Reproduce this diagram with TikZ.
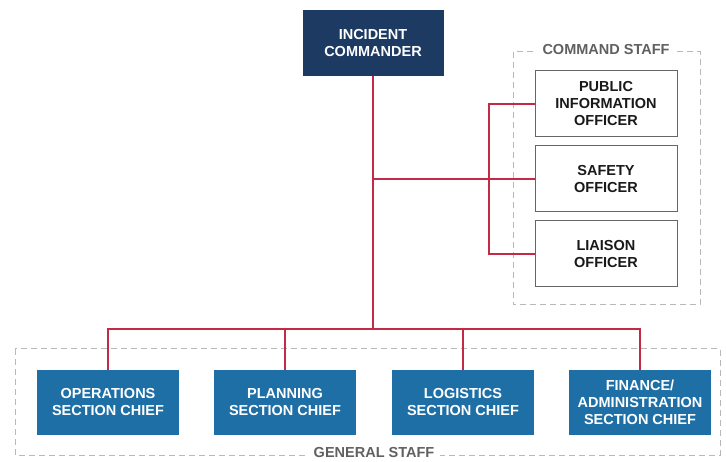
\documentclass[tikz,border=0pt]{standalone}
\usepackage{fontspec}
\setsansfont{Liberation Sans}
\usepackage{tikz}

\definecolor{icnavy}{HTML}{1D3A62}
\definecolor{gsblue}{HTML}{1F6FA7}
\definecolor{linkred}{HTML}{C22A45}
\definecolor{dashgray}{HTML}{B8B8B8}
\definecolor{labelgray}{HTML}{606060}

\begin{document}
\begin{tikzpicture}[x=1pt, y=-1pt,
    lbl/.style={font=\sffamily\bfseries\fontsize{14.5}{17}\selectfont, align=center},
    icbox/.style={lbl, fill=icnavy, text=white, minimum width=141pt, minimum height=66pt},
    gsbox/.style={lbl, fill=gsblue, text=white, minimum width=142pt, minimum height=65pt},
    csbox/.style={lbl, draw=black!60, line width=1pt, fill=white, text=black!90, minimum width=142pt, minimum height=66pt},
    link/.style={draw=linkred, line width=1.8pt},
    staffline/.style={draw=dashgray, line width=1pt, dash pattern=on 6pt off 4pt},
    stafflbl/.style={lbl, fill=white, text=labelgray, inner xsep=6pt, inner ysep=0pt}]
    \useasboundingbox (0,0) rectangle (726,462);
    % dashed groups
    \draw[staffline] (513,52) rectangle (700,305);
    \draw[staffline] (15,349) rectangle (720,455);
    \node[stafflbl] (cslbl) at (606,50) {COMMAND STAFF};
    \node[stafflbl] (gslbl) at (374,453) {GENERAL STAFF};
    % boxes
    \node[icbox] (ic) at (373,43) {INCIDENT\\COMMANDER};
    \node[csbox] (pio) at (606,104) {PUBLIC\\INFORMATION\\OFFICER};
    \node[csbox] (safety) at (606,179) {SAFETY\\OFFICER};
    \node[csbox] (liaison) at (606,254) {LIAISON\\OFFICER};
    \node[gsbox] (ops) at (108,402.5) {OPERATIONS\\SECTION CHIEF};
    \node[gsbox] (plan) at (285,402.5) {PLANNING\\SECTION CHIEF};
    \node[gsbox] (logi) at (463,402.5) {LOGISTICS\\SECTION CHIEF};
    \node[gsbox] (fin) at (640,402.5) {FINANCE/\\ADMINISTRATION\\SECTION CHIEF};
    % links
    \coordinate (bus) at (373,329);
    \coordinate (csbar) at (489,179);
    \draw[link] (ic.south) -- (bus);
    \draw[link] (ic.south |- safety.west) -- (safety.west);
    \draw[link] (pio.west) -| (csbar) |- (liaison.west);
    \draw[link] (ops.north) |- (bus) -| (fin.north);
    \draw[link] (plan.north) -- (plan.north |- bus);
    \draw[link] (logi.north) -- (logi.north |- bus);
\end{tikzpicture}
\end{document}
